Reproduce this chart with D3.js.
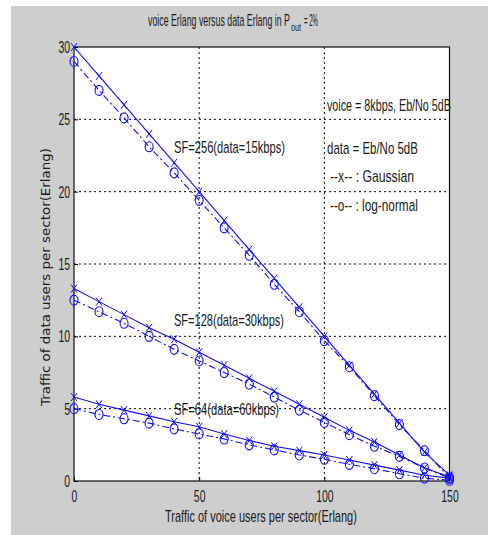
<!DOCTYPE html>
<html>
<head>
<meta charset="utf-8">
<style>
  html, body { margin: 0; padding: 0; background: #fff; }
  svg { display: block; }
  text { fill: #1a1a1a; }
</style>
</head>
<body>
<svg id="chart"></svg>
<script src="https://d3js.org/d3.v7.min.js"></script>
<script>
  // data
  var voice = [0, 10, 20, 30, 40, 50, 60, 70, 80, 90, 100, 110, 120, 130, 140, 150];
  var gauss256 = [30, 28, 26, 24, 22, 20, 18, 16, 14, 12, 10, 8, 6, 4, 2, 0.4];
  var logn256 = [29.0, 27.0, 25.1, 23.1, 21.3, 19.4, 17.5, 15.6, 13.6, 11.7, 9.7, 7.9, 5.9, 3.9, 2.1, 0.2];
  var gauss128 = [13.3, 12.4, 11.5, 10.6, 9.8, 8.9, 8.0, 7.1, 6.2, 5.3, 4.4, 3.5, 2.7, 1.8, 0.9, 0.3];
  var logn128 = [12.5, 11.7, 10.9, 10.0, 9.1, 8.3, 7.5, 6.7, 5.8, 4.9, 4.05, 3.2, 2.4, 1.7, 0.9, 0.2];
  var gauss64 = [5.8, 5.3, 4.9, 4.5, 4.1, 3.75, 3.25, 2.8, 2.4, 2.1, 1.8, 1.45, 1.1, 0.75, 0.4, 0.2];
  var logn64 = [5.0, 4.6, 4.3, 4.0, 3.6, 3.25, 2.9, 2.5, 2.15, 1.8, 1.5, 1.15, 0.85, 0.5, 0.2, 0.05];
  var xTicks = [0, 50, 100, 150];
  var yTicks = [0, 5, 10, 15, 20, 25, 30];

  var W = 488, H = 535;
  var pLeft = 74, pRight = 449.5, pTop = 47, pBottom = 481;
  var narrow = "'Liberation Sans Narrow', 'Arial Narrow', 'Liberation Sans', sans-serif";

  var svg = d3.select("#chart")
    .attr("width", W)
    .attr("height", H);

  // figure background (gray, with thin white strip at top/left)
  svg.append("rect")
    .attr("x", 11).attr("y", 6)
    .attr("width", W - 11).attr("height", H - 6)
    .attr("fill", "#cecece");

  svg.append("rect")
    .attr("x", pLeft).attr("y", pTop)
    .attr("width", pRight - pLeft).attr("height", pBottom - pTop)
    .attr("fill", "#fff");

  var x = d3.scaleLinear().domain([0, 150]).range([pLeft, pRight]);
  var y = d3.scaleLinear().domain([0, 30]).range([pBottom, pTop]);

  // grid (dotted, MATLAB style)
  svg.append("g").selectAll("line")
    .data(xTicks.slice(1, -1))
    .enter().append("line")
    .attr("x1", function(d) { return x(d); })
    .attr("x2", function(d) { return x(d); })
    .attr("y1", pTop).attr("y2", pBottom)
    .attr("stroke", "#000").attr("stroke-width", 1)
    .attr("stroke-dasharray", "2,3");

  svg.append("g").selectAll("line")
    .data(yTicks.slice(1, -1))
    .enter().append("line")
    .attr("y1", function(d) { return y(d); })
    .attr("y2", function(d) { return y(d); })
    .attr("x1", pLeft).attr("x2", pRight)
    .attr("stroke", "#000").attr("stroke-width", 1)
    .attr("stroke-dasharray", "2,3");

  // axes
  var xAxis = svg.append("g")
    .attr("transform", "translate(0," + pBottom + ")")
    .call(d3.axisBottom(x).tickValues(xTicks).tickSize(-4).tickPadding(9).tickSizeOuter(0));
  var yAxis = svg.append("g")
    .attr("transform", "translate(" + pLeft + ",0)")
    .call(d3.axisLeft(y).tickValues(yTicks).tickSize(-4).tickPadding(4).tickSizeOuter(0));

  [xAxis, yAxis].forEach(function(a) {
    a.select(".domain").remove();
    a.selectAll(".tick line").attr("stroke", "#000");
    a.selectAll(".tick text")
      .attr("font-family", narrow)
      .attr("font-size", 17)
      .attr("fill", "#1a1a1a")
      .attr("textLength", function(d) { return String(d).length * 5.8; })
      .attr("lengthAdjust", "spacingAndGlyphs");
  });

  // box
  svg.append("rect")
    .attr("x", pLeft).attr("y", pTop)
    .attr("width", pRight - pLeft).attr("height", pBottom - pTop)
    .attr("fill", "none").attr("stroke", "#111").attr("stroke-width", 1.2);

  // series
  var series = [
    {v: gauss256, dash: null, mark: "x"},
    {v: logn256, dash: "7,3,2,3", mark: "o"},
    {v: gauss128, dash: null, mark: "x"},
    {v: logn128, dash: "7,3,2,3", mark: "o"},
    {v: gauss64, dash: null, mark: "x"},
    {v: logn64, dash: "7,3,2,3", mark: "o"}
  ];

  var line = d3.line()
    .x(function(d, i) { return x(voice[i]); })
    .y(function(d) { return y(d); });

  var blue = "#1010ff";

  series.forEach(function(s) {
    var g = svg.append("g");
    g.append("path")
      .attr("d", line(s.v))
      .attr("fill", "none")
      .attr("stroke", blue)
      .attr("stroke-width", 1.1)
      .attr("stroke-dasharray", s.dash);

    var pts = g.selectAll("g.pt")
      .data(s.v)
      .enter().append("g")
      .attr("transform", function(d, i) {
        return "translate(" + x(voice[i]) + "," + y(d) + ")";
      });

    if (s.mark === "x") {
      pts.append("path")
        .attr("d", "M-3,-4L3,4M-3,4L3,-4")
        .attr("stroke", blue).attr("stroke-width", 1);
    } else {
      pts.append("ellipse")
        .attr("rx", 4).attr("ry", 5)
        .attr("fill", "none")
        .attr("stroke", blue).attr("stroke-width", 1.1);
    }
  });

  // text helper: squeeze text horizontally to a given width
  function label(txt, tx, ty, size, len, family) {
    var t = svg.append("text")
      .attr("font-family", family || narrow)
      .attr("font-size", size)
      .text(txt);
    var w = t.node().getComputedTextLength() || len;
    t.attr("transform", "translate(" + tx + "," + ty + ") scale(" + (len / w) + ",1)");
    return t;
  }

  // title
  label("voice Erlang versus data Erlang in P", 148, 26, 16, 142);
  label("out", 291, 31, 11, 10);
  label("= 2%", 304, 26, 16, 14);

  // annotations
  label("SF=256(data=15kbps)", 174, 153, 16, 111);
  label("SF=128(data=30kbps)", 174, 326, 16, 110);
  label("SF=64(data=60kbps)", 174, 415, 16, 105);
  label("voice = 8kbps, Eb/No 5dB", 327, 111, 16, 124);
  label("data = Eb/No 5dB", 327, 154, 16, 91);
  label("--x-- : Gaussian", 330, 182, 16, 84);
  label("--o-- : log-normal", 330, 211, 16, 88);

  // axis titles
  label("Traffic of voice users per sector(Erlang)", 165, 522, 16, 192);

  svg.append("text")
    .attr("transform", "translate(50,406) rotate(-90)")
    .attr("font-family", "'DejaVu Sans', sans-serif")
    .attr("font-size", 12)
    .attr("textLength", 258)
    .attr("lengthAdjust", "spacingAndGlyphs")
    .text("Traffic of data users per sector(Erlang)");
</script>
</body>
</html>
